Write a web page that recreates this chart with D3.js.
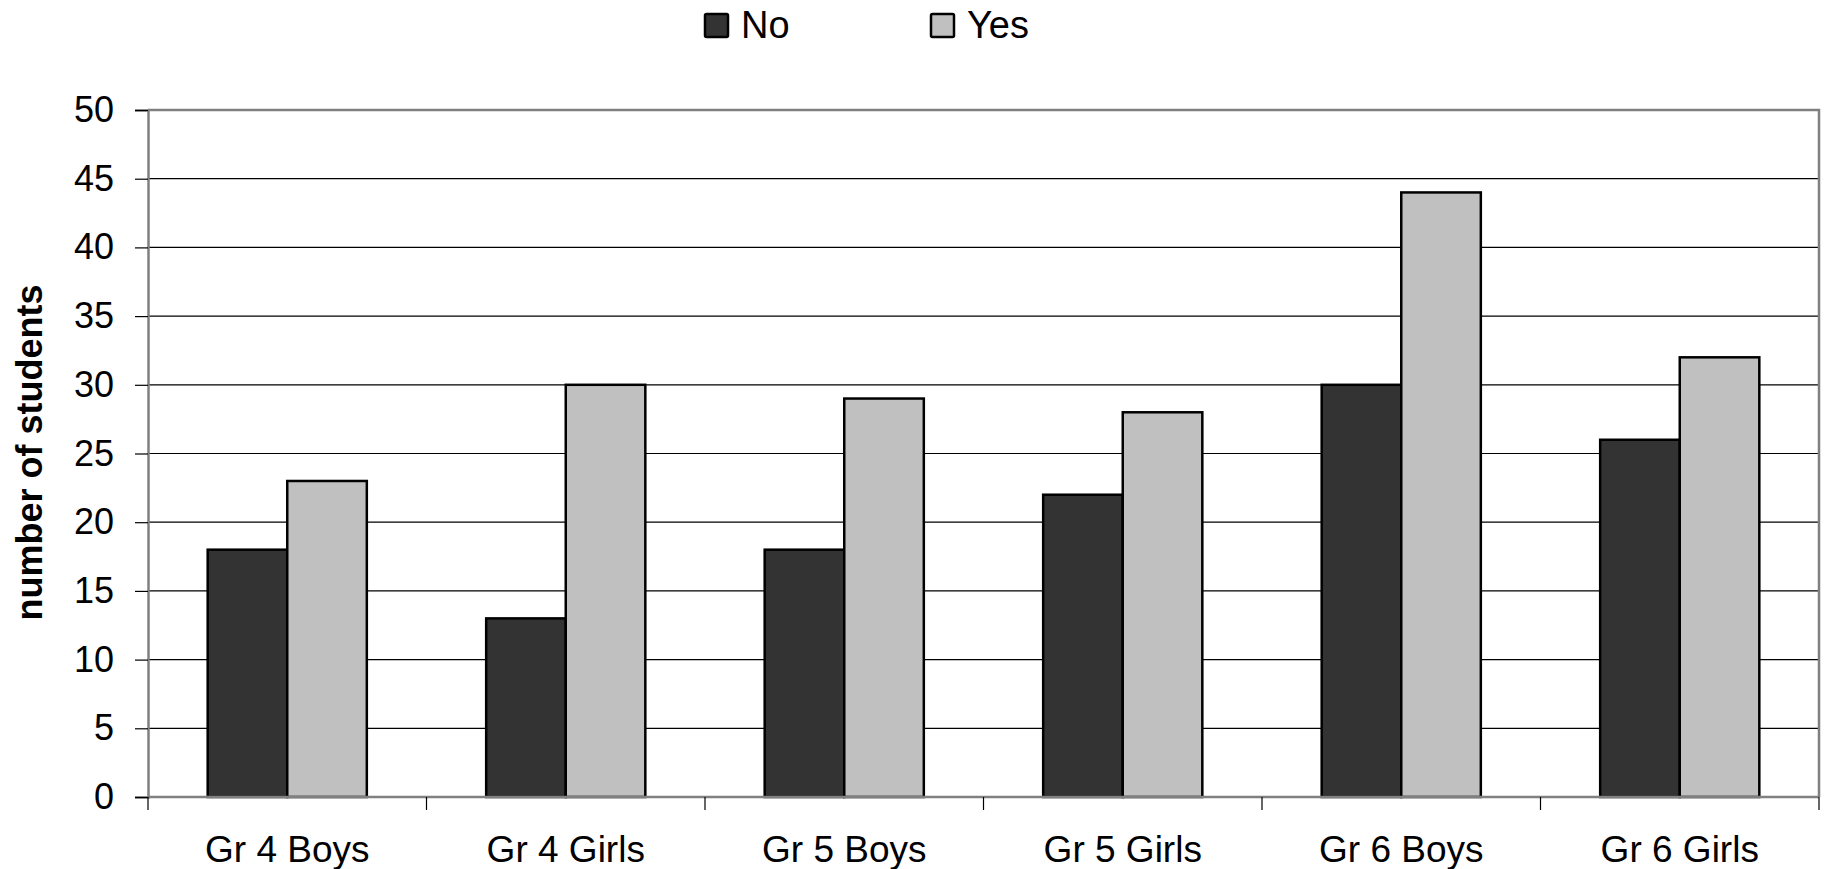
<!DOCTYPE html>
<html>
<head>
<meta charset="utf-8">
<script src="https://cdn.jsdelivr.net/npm/d3@7"></script>
<style>
  html, body { margin: 0; padding: 0; background: #fff; }
  svg { display: block; font-family: "Liberation Sans", Arial, sans-serif; }
</style>
</head>
<body>
<svg id="chart" width="1828" height="869"></svg>
<script>
// Survey responses per group
const categories = ["Gr 4 Boys", "Gr 4 Girls", "Gr 5 Boys", "Gr 5 Girls", "Gr 6 Boys", "Gr 6 Girls"];
const seriesNames = ["No", "Yes"];
const noValues = [18, 13, 18, 22, 30, 26];
const yesValues = [23, 30, 29, 28, 44, 32];
const yTicks = [0, 5, 10, 15, 20, 25, 30, 35, 40, 45, 50];
const seriesColors = ["#333333", "#c0c0c0"];

const svg = d3.select("#chart");
const plot = { left: 148, right: 1819, top: 110, bottom: 797 };

const x = d3.scaleBand()
  .domain(categories)
  .range([plot.left, plot.right])
  .paddingInner(0).paddingOuter(0);

// two bars per category, 150% gap between groups
const barW = x.bandwidth() / 3.5;
const xs = d3.scaleBand().domain(seriesNames).range([0, 2 * barW]);

const y = d3.scaleLinear().domain([0, 50]).range([plot.bottom, plot.top]);

// gridlines
svg.append("g")
  .selectAll("line")
  .data(yTicks.filter(d => d > 0 && d < 50))
  .join("line")
  .attr("x1", plot.left).attr("x2", plot.right)
  .attr("y1", d => y(d)).attr("y2", d => y(d))
  .attr("stroke", "#000").attr("stroke-width", 1.2);

// plot area border (top and right)
svg.append("path")
  .attr("d", `M${plot.left},${plot.top}H${plot.right}V${plot.bottom}`)
  .attr("fill", "none").attr("stroke", "#808080").attr("stroke-width", 2.5);

// bars
const rows = categories.map((c, i) => ({ cat: c, vals: [noValues[i], yesValues[i]] }));
const groups = svg.append("g").selectAll("g")
  .data(rows)
  .join("g")
  .attr("transform", d => `translate(${x(d.cat) + 0.75 * barW},0)`);

groups.selectAll("rect")
  .data(d => d.vals.map((v, j) => ({ name: seriesNames[j], v, j })))
  .join("rect")
  .attr("x", d => xs(d.name))
  .attr("width", barW)
  .attr("y", d => y(d.v))
  .attr("height", d => y(0) - y(d.v))
  .attr("fill", d => seriesColors[d.j])
  .attr("stroke", "#000")
  .attr("stroke-width", 2.5);

// y axis
const yAxis = svg.append("g")
  .attr("transform", `translate(${plot.left},0)`)
  .call(d3.axisLeft(y).tickValues(yTicks).tickSize(13).tickPadding(21));
yAxis.select(".domain").attr("stroke", "#808080").attr("stroke-width", 2.5);
yAxis.selectAll(".tick line").attr("stroke", "#000").attr("stroke-width", 1.2);
yAxis.selectAll(".tick text")
  .attr("font-size", 36).attr("fill", "#000")
  .attr("font-family", "Liberation Sans, Arial, sans-serif");

// x axis with ticks at category boundaries
const xAxisG = svg.append("g").attr("transform", `translate(0,${plot.bottom})`);
xAxisG.append("line")
  .attr("x1", plot.left).attr("x2", plot.right)
  .attr("stroke", "#808080").attr("stroke-width", 2.5);
const bounds = categories.map(c => x(c)).concat([plot.right]);
xAxisG.selectAll("line.tk")
  .data(bounds)
  .join("line").attr("class", "tk")
  .attr("x1", d => d).attr("x2", d => d)
  .attr("y1", 0).attr("y2", 13)
  .attr("stroke", "#000").attr("stroke-width", 1.2);
xAxisG.selectAll("text")
  .data(categories)
  .join("text")
  .attr("x", d => x(d) + x.bandwidth() / 2)
  .attr("y", 65)
  .attr("text-anchor", "middle")
  .attr("font-size", 37)
  .attr("fill", "#000")
  .text(d => d);

// y axis title
svg.append("text")
  .attr("transform", `translate(42,${(plot.top + plot.bottom) / 2 - 1}) rotate(-90)`)
  .attr("text-anchor", "middle")
  .attr("font-size", 36)
  .attr("font-weight", "bold")
  .text("number of students");

// legend
const legendX = [705, 931];
const legend = svg.append("g").selectAll("g")
  .data(seriesNames)
  .join("g")
  .attr("transform", (d, i) => `translate(${legendX[i]},14)`);
legend.append("rect")
  .attr("width", 23).attr("height", 23)
  .attr("fill", (d, i) => seriesColors[i])
  .attr("stroke", "#000").attr("stroke-width", 2.5)
  .attr("rx", 1.5);
legend.append("text")
  .attr("x", 36).attr("y", 24)
  .attr("font-size", 38)
  .text(d => d);
</script>
</body>
</html>
